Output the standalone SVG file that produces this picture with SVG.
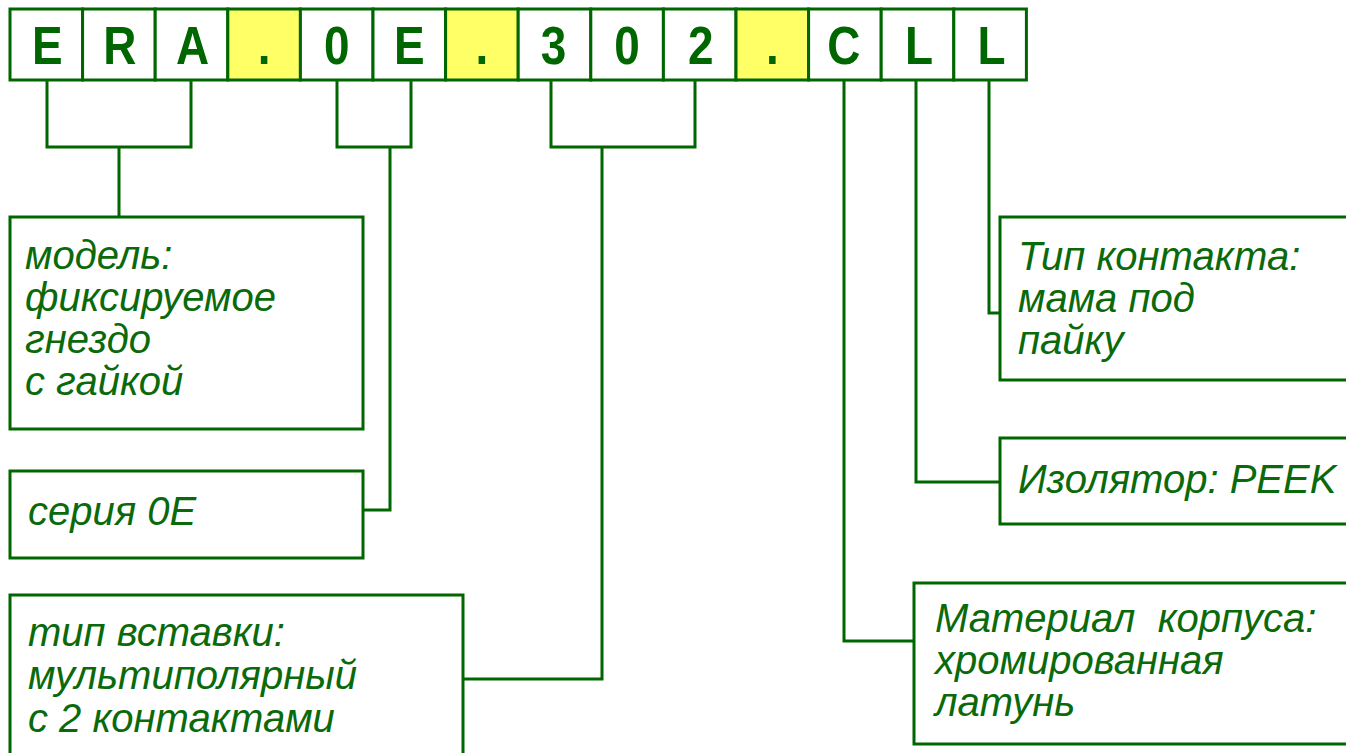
<svg xmlns="http://www.w3.org/2000/svg" width="1346" height="753" viewBox="0 0 1346 753">
<style>
.cell{fill:#ffffff;stroke:#006600;stroke-width:3}
.sep{fill:#ffff66;stroke:#006600;stroke-width:3}
.ch{font-family:"Liberation Sans",Arial,sans-serif;font-weight:bold;font-size:54px;fill:#006600;text-anchor:middle}
.box{fill:#ffffff;stroke:#006600;stroke-width:3}
.lbl{font-family:"Liberation Sans",Arial,sans-serif;font-style:italic;font-size:40px;fill:#0a6a0a}
.con{fill:none;stroke:#006600;stroke-width:3}
</style>
<rect width="1346" height="753" fill="#ffffff"/>
<g id="code">
<rect class="cell" x="10" y="9" width="72.6" height="71"/>
<rect class="cell" x="82.6" y="9" width="72.6" height="71"/>
<rect class="cell" x="155.2" y="9" width="72.6" height="71"/>
<rect class="sep" x="227.8" y="9" width="72.6" height="71"/>
<rect class="cell" x="300.4" y="9" width="72.6" height="71"/>
<rect class="cell" x="373" y="9" width="72.6" height="71"/>
<rect class="sep" x="445.6" y="9" width="72.6" height="71"/>
<rect class="cell" x="518.2" y="9" width="72.6" height="71"/>
<rect class="cell" x="590.8" y="9" width="72.6" height="71"/>
<rect class="cell" x="663.4" y="9" width="72.6" height="71"/>
<rect class="sep" x="736" y="9" width="72.6" height="71"/>
<rect class="cell" x="808.6" y="9" width="72.6" height="71"/>
<rect class="cell" x="881.2" y="9" width="72.6" height="71"/>
<rect class="cell" x="953.8" y="9" width="72.6" height="71"/>
<text class="ch" transform="translate(47.3 64) scale(0.85 1)">E</text>
<text class="ch" transform="translate(119.9 64) scale(0.85 1)">R</text>
<text class="ch" transform="translate(192.5 64) scale(0.85 1)">A</text>
<text class="ch" transform="translate(264.1 64) scale(0.85 1)">.</text>
<text class="ch" transform="translate(336.7 64) scale(0.85 1)">0</text>
<text class="ch" transform="translate(409.3 64) scale(0.85 1)">E</text>
<text class="ch" transform="translate(481.9 64) scale(0.85 1)">.</text>
<text class="ch" transform="translate(553.5 64) scale(0.85 1)">3</text>
<text class="ch" transform="translate(627.1 64) scale(0.85 1)">0</text>
<text class="ch" transform="translate(700.7 64) scale(0.85 1)">2</text>
<text class="ch" transform="translate(772.3 64) scale(0.85 1)">.</text>
<text class="ch" transform="translate(843.9 64) scale(0.85 1)">C</text>
<text class="ch" transform="translate(919 64) scale(0.85 1)">L</text>
<text class="ch" transform="translate(991.6 64) scale(0.85 1)">L</text>
</g>
<g id="connectors">
<path class="con" d="M47 80V147H191V80M119 147V217"/>
<path class="con" d="M337 80V147H411V80M390 147V510H363"/>
<path class="con" d="M551 80V147H695V80M602 147V679H463"/>
<path class="con" d="M844 80V641H914"/>
<path class="con" d="M916 80V482H1000"/>
<path class="con" d="M989 80V313H1000"/>
</g>
<g id="box-model">
<rect class="box" x="10" y="217" width="353" height="212"/>
<text class="lbl" x="25" y="269">модель:</text>
<text class="lbl" x="25" y="311">фиксируемое</text>
<text class="lbl" x="25" y="353">гнездо</text>
<text class="lbl" x="25" y="395">с гайкой</text>
</g>
<g id="box-series">
<rect class="box" x="10" y="471" width="353" height="87"/>
<text class="lbl" x="28" y="525">серия 0E</text>
</g>
<g id="box-insert">
<rect class="box" x="10" y="595" width="453" height="170"/>
<text class="lbl" x="28" y="646">тип вставки:</text>
<text class="lbl" x="28" y="689">мультиполярный</text>
<text class="lbl" x="28" y="732">с 2 контактами</text>
</g>
<g id="box-contact">
<rect class="box" x="1000" y="217" width="360" height="163"/>
<text class="lbl" x="1018" y="270">Тип контакта:</text>
<text class="lbl" x="1018" y="312">мама под</text>
<text class="lbl" x="1018" y="354">пайку</text>
</g>
<g id="box-insulator">
<rect class="box" x="1000" y="438" width="360" height="86"/>
<text class="lbl" x="1018" y="493">Изолятор: PEEK</text>
</g>
<g id="box-material">
<rect class="box" x="914" y="583" width="446" height="161"/>
<text class="lbl" x="935" y="632" xml:space="preserve">Материал  корпуса:</text>
<text class="lbl" x="935" y="674">хромированная</text>
<text class="lbl" x="935" y="716">латунь</text>
</g>
</svg>
